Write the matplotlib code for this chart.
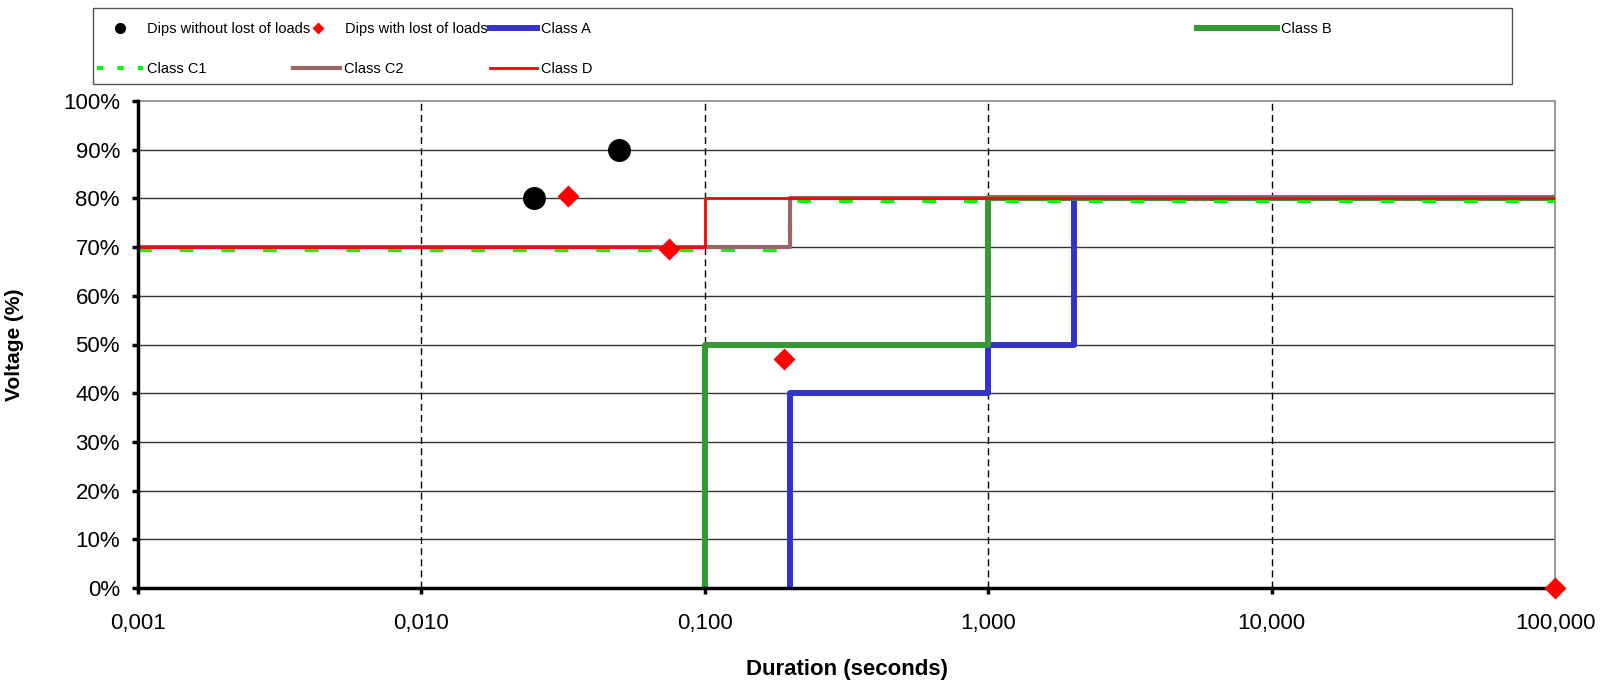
import matplotlib
matplotlib.use('Agg')
import matplotlib.pyplot as plt
from matplotlib.lines import Line2D
from matplotlib.patches import Rectangle
from matplotlib.ticker import FixedLocator, FuncFormatter

plt.rcParams['font.family'] = ['Liberation Sans', 'DejaVu Sans']

# points mesurés
dips_ok_x = [0.025, 0.05]
dips_ok_y = [80, 90]
dips_lost_x = [0.033, 0.075, 0.19, 100]
dips_lost_y = [80.5, 69.7, 47, 0]

# courbes de classes
class_a_x = [0.2, 0.2, 1, 1, 2, 2, 100]
class_a_y = [0, 40, 40, 50, 50, 80, 80]
class_b_x = [0.1, 0.1, 1, 1, 100]
class_b_y = [0, 50, 50, 80, 80]
class_c1_x = [0.001, 0.2, 0.2, 100]
class_c1_y = [69.5, 69.5, 79.5, 79.5]
class_c2_x = [0.001, 0.2, 0.2, 100]
class_c2_y = [70, 70, 80, 80]
class_d_x = [0.001, 0.1, 0.1, 100]
class_d_y = [70, 70, 80, 80]

x_ticks = [0.001, 0.01, 0.1, 1, 10, 100]
y_ticks = list(range(0, 101, 10))

W, H = 1613, 681
fig = plt.figure(figsize=(W / 100, H / 100), dpi=100)
ax = fig.add_axes([138 / W, 1 - 588 / H, (1555 - 138) / W, (588 - 101) / H])

# grille
for y in y_ticks[1:-1]:
    ax.axhline(y, color='#333333', lw=1.0, zorder=1)
for x in x_ticks[1:-1]:
    ax.axvline(x, color='black', lw=1.0, ls=(0, (5, 3)), zorder=1)

lw_ab = 4.3
ax.plot(class_a_x, class_a_y, color='#3333CC', lw=lw_ab, zorder=3, label='Class A')
ax.plot(class_b_x, class_b_y, color='#339933', lw=lw_ab, zorder=3, label='Class B')
ax.plot(class_c1_x, class_c1_y, color='#00FF00', lw=3.0, ls=(0, (3.3, 6.7)), zorder=4, label='Class C1')
ax.plot(class_c2_x, class_c2_y, color='#996666', lw=3.0, zorder=5, label='Class C2')
ax.plot(class_d_x, class_d_y, color='#FF0000', lw=2.0, zorder=6, label='Class D')
ax.plot(dips_ok_x, dips_ok_y, 'o', color='black', ms=15.5, zorder=7, clip_on=False)
ax.plot(dips_lost_x, dips_lost_y, 'D', color='#FF0000', ms=11.5, mec='none', zorder=9, clip_on=False)

ax.set_xscale('log')
ax.set_xlim(0.001, 100)
ax.set_ylim(0, 100)
ax.xaxis.set_major_locator(FixedLocator(x_ticks))
ax.xaxis.set_minor_locator(FixedLocator([]))
ax.xaxis.set_major_formatter(FuncFormatter(lambda v, p: f'{v:.3f}'.replace('.', ',')))
ax.yaxis.set_major_locator(FixedLocator(y_ticks))
ax.yaxis.set_major_formatter(FuncFormatter(lambda v, p: f'{v:.0f}%'))

for s in ['left', 'bottom']:
    ax.spines[s].set_linewidth(2.5)
    ax.spines[s].set_color('black')
for s in ['right', 'top']:
    ax.spines[s].set_linewidth(1.2)
    ax.spines[s].set_color('#888888')
ax.spines['left'].set_zorder(8)
ax.spines['bottom'].set_zorder(8)

ax.tick_params(axis='y', length=4, width=2.5, pad=9, labelsize=16)
ax.tick_params(axis='x', length=4, width=2.5, pad=14, labelsize=16)

ax.set_xlabel('Duration (seconds)', fontsize=16, fontweight='bold', labelpad=18)
ax.set_ylabel('Voltage (%)', fontsize=15, fontweight='bold')
ax.yaxis.set_label_coords(-(138 - 24) / (1555 - 138), 0.5)

# légende façon Excel
fig.add_artist(Rectangle((93 / W, 1 - 84 / H), (1512 - 93) / W, 76 / H,
                         transform=fig.transFigure, fill=False, ec='#555555', lw=1.0))

fs_leg = 10.5
fs_px = fs_leg * 100 / 72
h_ok = Line2D([], [], marker='o', color='black', ls='none', ms=7)
h_lost = Line2D([], [], marker='D', color='#FF0000', ls='none', ms=6.5, mec='none')
h_a = Line2D([], [], color='#3333CC', lw=lw_ab)
h_b = Line2D([], [], color='#339933', lw=lw_ab)
h_c1 = Line2D([], [], color='#00FF00', lw=3.0, ls=(0, (1.5, 3.4)))
h_c2 = Line2D([], [], color='#996666', lw=3.0)
h_d = Line2D([], [], color='#FF0000', lw=2.0)

entries = [
    (h_ok, 'Dips without lost of loads', 97, 29, 46),
    (h_lost, 'Dips with lost of loads', 295, 29, 46),
    (h_a, 'Class A', 490, 29, 47),
    (h_b, 'Class B', 1197, 29, 80),
    (h_c1, 'Class C1', 97, 69, 46),
    (h_c2, 'Class C2', 293, 69, 47),
    (h_d, 'Class D', 490, 69, 47),
]
for h, lab, x, y, hl in entries:
    fig.legend([h], [lab], loc='center left', bbox_to_anchor=(x / W, 1 - y / H),
               frameon=False, fontsize=fs_leg, handlelength=hl / fs_px,
               handletextpad=4 / fs_px, borderpad=0, borderaxespad=0)

fig.savefig('out.png', dpi=100)
